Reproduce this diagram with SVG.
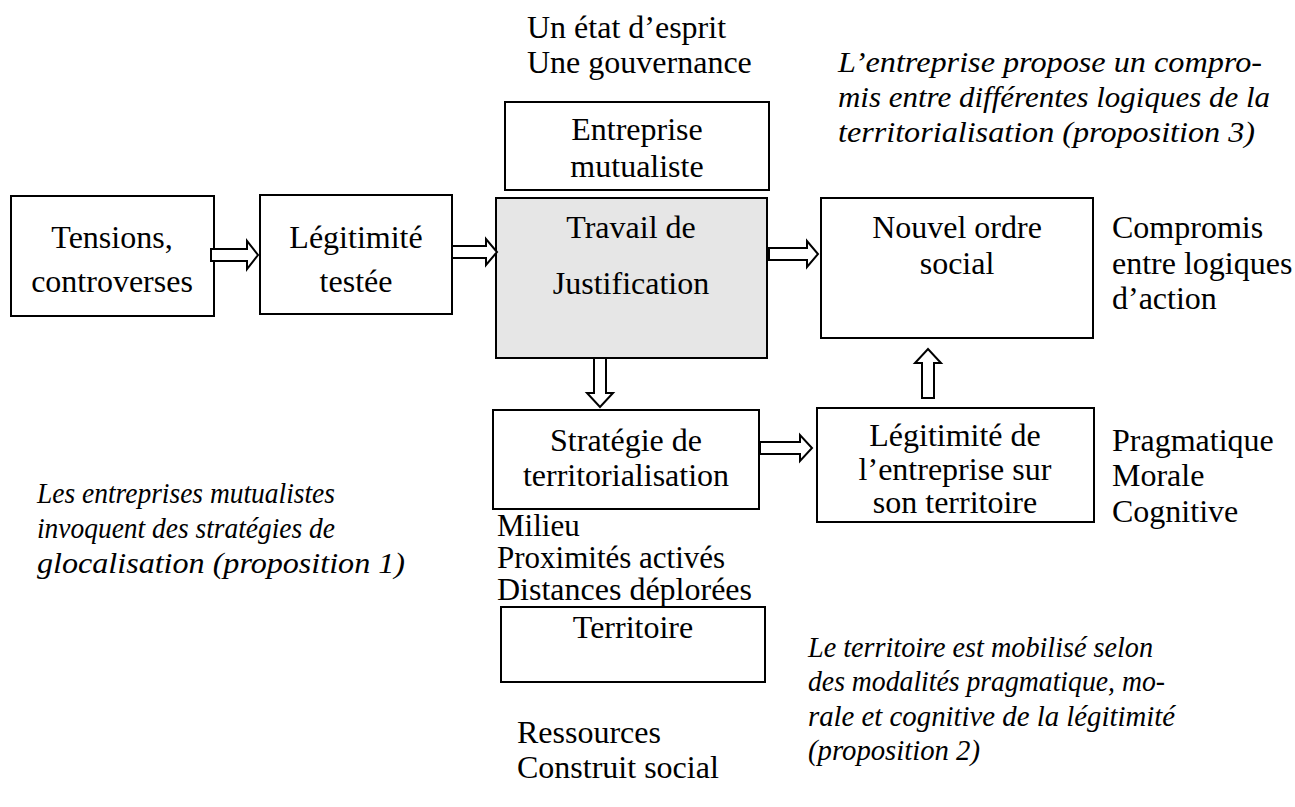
<svg xmlns="http://www.w3.org/2000/svg" width="1295" height="807" viewBox="0 0 1295 807">
<style>
.box{fill:#fff;stroke:#000;stroke-width:2}
.grey{fill:#e6e6e6;stroke:#000;stroke-width:2}
.t{font-family:"Liberation Serif","Times New Roman",serif;font-size:32px;fill:#000}
.s{font-size:31px}
.c{text-anchor:middle}
.i{font-family:"Liberation Serif","Times New Roman",serif;font-size:29px;font-style:italic;fill:#000}
.arr{fill:#fff;stroke:#000;stroke-width:2;stroke-linejoin:miter}
</style>
<rect width="1295" height="807" fill="#fff"/>

<g id="labels-top">
<text class="t" x="527" y="38">Un état d’esprit</text>
<text class="t" x="527" y="73">Une gouvernance</text>
</g>
<g id="prop3">
<text class="i" x="838" y="72" textLength="424" lengthAdjust="spacingAndGlyphs">L’entreprise propose un compro-</text>
<text class="i" x="838" y="107" textLength="432" lengthAdjust="spacingAndGlyphs">mis entre différentes logiques de la</text>
<text class="i" x="838" y="142" textLength="417" lengthAdjust="spacingAndGlyphs">territorialisation (proposition 3)</text>
</g>

<g id="entreprise">
<rect class="box" x="505" y="102" width="264" height="88"/>
<text class="t c" x="637" y="140">Entreprise</text>
<text class="t c" x="637" y="177">mutualiste</text>
</g>

<g id="tensions">
<rect class="box" x="11" y="196" width="203" height="120"/>
<text class="t c" x="112" y="248">Tensions,</text>
<text class="t c" x="112" y="292">controverses</text>
</g>

<g id="legitimite-testee">
<rect class="box" x="260" y="195" width="192" height="119"/>
<text class="t c" x="356" y="248">Légitimité</text>
<text class="t c" x="356" y="292">testée</text>
</g>

<g id="travail">
<rect class="grey" x="496" y="198" width="271" height="160"/>
<text class="t c" x="631" y="238">Travail de</text>
<text class="t c" x="631" y="294">Justification</text>
</g>

<g id="nouvel-ordre">
<rect class="box" x="821" y="198" width="272" height="140"/>
<text class="t c" x="957" y="238">Nouvel ordre</text>
<text class="t c" x="957" y="274">social</text>
</g>
<g id="compromis">
<text class="t" x="1112" y="238">Compromis</text>
<text class="t" x="1112" y="274">entre logiques</text>
<text class="t" x="1112" y="309">d’action</text>
</g>

<g id="strategie">
<rect class="box" x="493" y="410" width="266" height="99"/>
<text class="t c" x="626" y="451">Stratégie de</text>
<text class="t c" x="626" y="486">territorialisation</text>
</g>

<g id="legitimite-entreprise">
<rect class="box" x="817" y="408" width="277" height="114"/>
<text class="t c" x="955" y="446">Légitimité de</text>
<text class="t c" x="955" y="480">l’entreprise sur</text>
<text class="t c" x="955" y="513">son territoire</text>
</g>
<g id="modalites">
<text class="t" x="1112" y="451">Pragmatique</text>
<text class="t" x="1112" y="486">Morale</text>
<text class="t" x="1112" y="522">Cognitive</text>
</g>

<g id="prop1">
<text class="i" x="37" y="503" textLength="298" lengthAdjust="spacingAndGlyphs">Les entreprises mutualistes</text>
<text class="i" x="37" y="538" textLength="298" lengthAdjust="spacingAndGlyphs">invoquent des stratégies de</text>
<text class="i" x="37" y="573" textLength="368" lengthAdjust="spacingAndGlyphs">glocalisation (proposition 1)</text>
</g>

<g id="milieu">
<text class="t s" x="497" y="536">Milieu</text>
<text class="t s" x="497" y="568">Proximités activés</text>
<text class="t s" x="497" y="600" textLength="255" lengthAdjust="spacingAndGlyphs">Distances déplorées</text>
</g>

<g id="territoire">
<rect class="box" x="501" y="607" width="264" height="75"/>
<text class="t c" x="633" y="638">Territoire</text>
</g>

<g id="ressources">
<text class="t" x="517" y="743">Ressources</text>
<text class="t" x="517" y="778">Construit social</text>
</g>

<g id="prop2">
<text class="i" x="808" y="657" textLength="345" lengthAdjust="spacingAndGlyphs">Le territoire est mobilisé selon</text>
<text class="i" x="808" y="691" textLength="357" lengthAdjust="spacingAndGlyphs">des modalités pragmatique, mo-</text>
<text class="i" x="808" y="726" textLength="367" lengthAdjust="spacingAndGlyphs">rale et cognitive de la légitimité</text>
<text class="i" x="808" y="760" textLength="172" lengthAdjust="spacingAndGlyphs">(proposition 2)</text>
</g>

<g id="connectors">
<polygon class="arr" points="211,249 247,249 247,241 258,255 247,269 247,261 211,261"/>
<polygon class="arr" points="452,246 486,246 486,239 497,252 486,265 486,258 452,258"/>
<polygon class="arr" points="769,248 807,248 807,241 818,254 807,267 807,260 769,260"/>
<polygon class="arr" points="594,358 594,393 587,393 600,407 613,393 606,393 606,358"/>
<polygon class="arr" points="760,442 800,442 800,435 812,448 800,461 800,454 760,454"/>
<polygon class="arr" points="922,398 922,363 915,363 928,349 941,363 934,363 934,398"/>
</g>
</svg>
